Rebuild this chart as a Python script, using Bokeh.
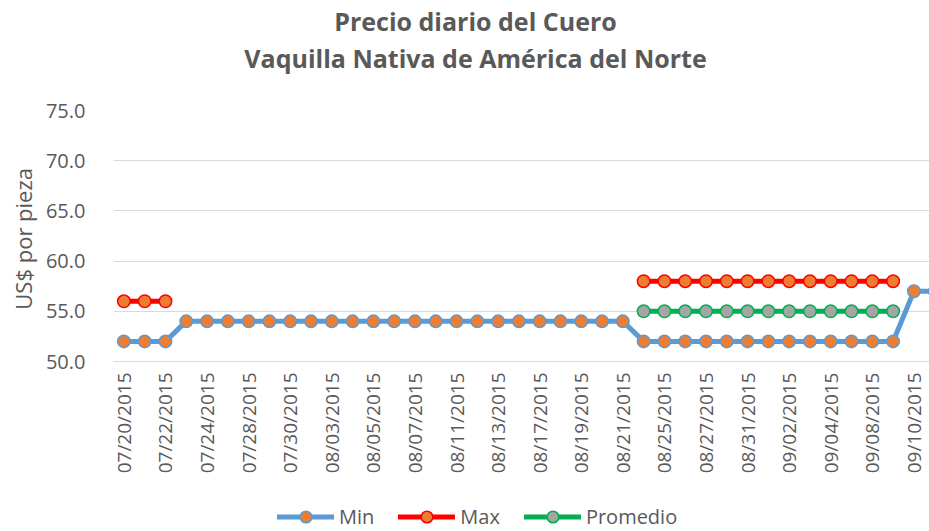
import math
from bokeh.plotting import figure
from bokeh.layouts import column
from bokeh.models import (Range1d, Legend, LegendItem, FixedTicker,
                          NumeralTickFormatter, ColumnDataSource)
from bokeh.core.properties import value
from bokeh.embed import file_html
from bokeh.resources import INLINE

nan = float("nan")

dates = [
    "07/20/2015", "07/21/2015", "07/22/2015", "07/23/2015", "07/24/2015",
    "07/27/2015", "07/28/2015", "07/29/2015", "07/30/2015", "07/31/2015",
    "08/03/2015", "08/04/2015", "08/05/2015", "08/06/2015", "08/07/2015",
    "08/10/2015", "08/11/2015", "08/12/2015", "08/13/2015", "08/14/2015",
    "08/17/2015", "08/18/2015", "08/19/2015", "08/20/2015", "08/21/2015",
    "08/24/2015", "08/25/2015", "08/26/2015", "08/27/2015", "08/28/2015",
    "08/31/2015", "09/01/2015", "09/02/2015", "09/03/2015", "09/04/2015",
    "09/07/2015", "09/08/2015", "09/09/2015", "09/10/2015", "09/11/2015",
]

min_vals = [
    52, 52, 52, 54, 54, 54, 54, 54, 54, 54,
    54, 54, 54, 54, 54, 54, 54, 54, 54, 54,
    54, 54, 54, 54, 54, 52, 52, 52, 52, 52,
    52, 52, 52, 52, 52, 52, 52, 52, 57, 57,
]
max_vals = [
    56, 56, 56, nan, nan, nan, nan, nan, nan, nan,
    nan, nan, nan, nan, nan, nan, nan, nan, nan, nan,
    nan, nan, nan, nan, nan, 58, 58, 58, 58, 58,
    58, 58, 58, 58, 58, 58, 58, 58, nan, nan,
]
prom_vals = [
    nan, nan, nan, nan, nan, nan, nan, nan, nan, nan,
    nan, nan, nan, nan, nan, nan, nan, nan, nan, nan,
    nan, nan, nan, nan, nan, 55, 55, 55, 55, 55,
    55, 55, 55, 55, 55, 55, 55, 55, nan, nan,
]

y_ticks = [50, 55, 60, 65, 70, 75]
title_lines = ["Precio diario del Cuero", "Vaquilla Nativa de América del Norte"]
y_label = "US$  por pieza"
series_names = ["Min", "Max", "Promedio"]

FONT = "Open Sans"
TXT = "#595959"
W = 929
LEFT = 113  # left border shared by all stacked figures (frames are aligned)

styles = [
    ("mn", "#5B9BD5", "#ED7D31"),
    ("mx", "#FF0000", "#ED7D31"),
    ("pr", "#00B050", "#A5A5A5"),
]

idx = list(range(len(dates)))
src = ColumnDataSource(dict(x=idx, mn=min_vals, mx=max_vals, pr=prom_vals))

# ---------------- title strip ----------------
tfig = figure(width=W, height=90, output_backend="svg", toolbar_location=None,
              x_range=Range1d(LEFT, W), y_range=Range1d(90, 0),
              x_axis_type=None, y_axis_type=None, min_border=0,
              min_border_left=LEFT, outline_line_color=None)
tfig.text(x=[475, 475], y=[20, 57], text=title_lines,
          text_align="center", text_baseline="middle",
          text_font=value(FONT), text_font_style="bold",
          text_font_size="25px", text_color=TXT)

# ---------------- main chart ----------------
p = figure(width=W, height=396, output_backend="svg", toolbar_location=None,
           x_range=Range1d(-0.5, 38.75), y_range=Range1d(50, 75),
           min_border_left=LEFT, min_border_right=0, min_border_top=20,
           min_border_bottom=125, outline_line_color=None)

p.xgrid.grid_line_color = None
p.ygrid.grid_line_color = "#D9D9D9"
p.ygrid.grid_line_width = 1

p.yaxis.ticker = FixedTicker(ticks=y_ticks)
p.yaxis.formatter = NumeralTickFormatter(format="0.0")
p.yaxis.axis_line_color = None
p.yaxis.major_tick_line_color = None
p.yaxis.minor_tick_line_color = None
p.yaxis.major_label_standoff = 22
p.yaxis.major_label_text_font = FONT
p.yaxis.major_label_text_font_size = "20px"
p.yaxis.major_label_text_color = TXT
p.yaxis.axis_label = y_label
p.yaxis.axis_label_text_font = FONT
p.yaxis.axis_label_text_font_size = "22px"
p.yaxis.axis_label_text_font_style = "normal"
p.yaxis.axis_label_text_color = TXT
p.yaxis.axis_label_standoff = 5

p.xaxis.ticker = FixedTicker(ticks=idx[::2])
p.xaxis.major_label_overrides = {i: dates[i] for i in idx}
p.xaxis.major_label_orientation = math.pi / 2
p.xaxis.axis_line_color = "#D9D9D9"
p.xaxis.major_tick_line_color = None
p.xaxis.minor_tick_line_color = None
p.xaxis.major_label_standoff = 5
p.xaxis.major_label_text_font = FONT
p.xaxis.major_label_text_font_size = "19px"
p.xaxis.major_label_text_color = TXT

for col, lc, fc in styles:
    p.line("x", col, source=src, line_color=lc, line_width=5,
           line_cap="round", line_join="round")
    p.scatter("x", col, source=src, size=12.5, fill_color=fc,
              line_color=lc, line_width=1.5)

# ---------------- legend strip ----------------
# same series, drawn outside this strip's visible range: only the legend shows
lfig = figure(width=W, height=45, output_backend="svg", toolbar_location=None,
              x_range=Range1d(0, 1), y_range=Range1d(0, 1),
              x_axis_type=None, y_axis_type=None, min_border=0,
              min_border_left=LEFT, outline_line_color=None)
items = []
for (col, lc, fc), name in zip(styles, series_names):
    l = lfig.line("x", col, source=src, line_color=lc, line_width=5,
                  line_cap="round", line_join="round")
    s = lfig.scatter("x", col, source=src, size=12.5, fill_color=fc,
                     line_color=lc, line_width=1.5)
    items.append(LegendItem(label=name, renderers=[l, s]))

legend = Legend(items=items, orientation="horizontal", location=(277 - LEFT, 0),
                padding=0, margin=0, spacing=24, label_standoff=5,
                glyph_width=57, glyph_height=29, border_line_color=None,
                background_fill_alpha=0, label_text_font=FONT,
                label_text_font_size="20px", label_text_color=TXT)
lfig.add_layout(legend)

layout = column(tfig, p, lfig, spacing=0)
open("out.html", "w").write(file_html(layout, INLINE))
